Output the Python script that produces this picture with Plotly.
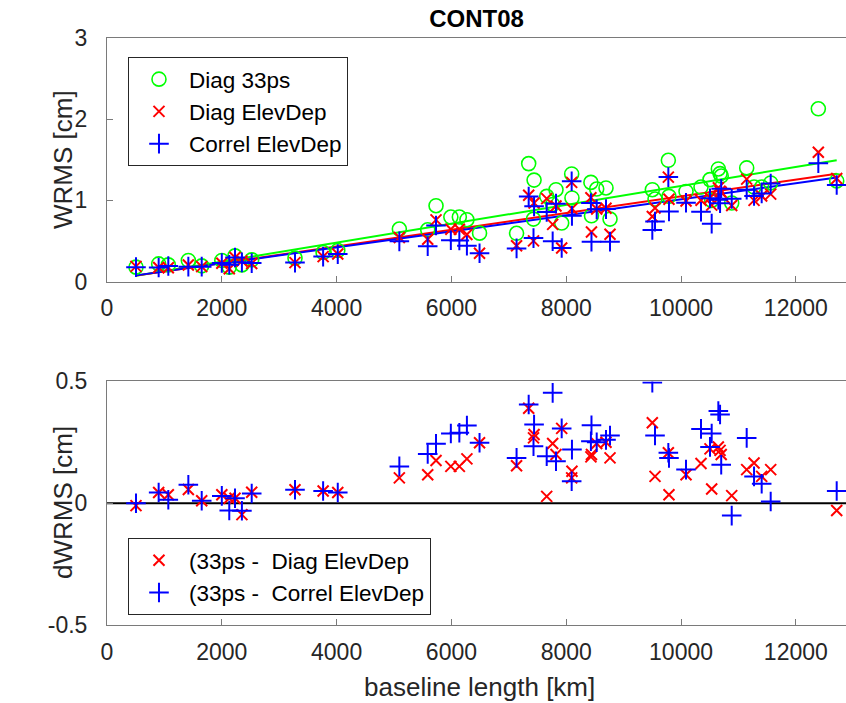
import numpy as np
import plotly.graph_objects as go

baseline_km = [505, 900, 1068, 1417, 1650, 2000, 2130, 2230, 2350, 2521, 3275, 3765, 4020,
               5093, 5587, 5732, 5990, 6138, 6270, 6490, 7135, 7346, 7440, 7430, 7660, 7764,
               7822, 7921, 8095, 8100, 8430, 8440, 8531, 8693, 8763, 9500, 9547, 9779, 9790,
               10087, 10348, 10505, 10534, 10650, 10680, 10700, 10883, 11144, 11272, 11405,
               11562, 12392, 12712]
wrms_diag_33ps = [0.178, 0.218, 0.206, 0.26, 0.194, 0.26, 0.178, 0.317, 0.206, 0.268, 0.289, 0.358,
                  0.383, 0.647, 0.638, 0.935, 0.795, 0.795, 0.762, 0.597, 0.595, 1.453, 1.25, 0.77,
                  1.05, 0.95, 1.132, 0.721, 1.326, 1.03, 1.222, 0.811, 1.14, 1.153, 0.77, 1.132,
                  1.017, 1.494, 1.05, 1.11, 1.165, 1.256, 1.0, 1.387, 1.33, 1.3, 0.968, 1.4, 1.165,
                  1.165, 1.215, 2.128, 1.24]
dwrms_diag_elev = [-0.01, 0.044, 0.035, 0.056, 0.01, 0.035, 0.02, 0.02, -0.047, 0.045, 0.055, 0.05,
                   0.044, 0.104, 0.117, 0.175, 0.151, 0.151, 0.182, 0.248, 0.154, 0.39, 0.282, 0.268,
                   0.028, 0.245, 0.2, 0.307, 0.104, 0.131, 0.19, 0.2, 0.245, 0.25, 0.186, 0.33, 0.11,
                   0.207, 0.035, 0.117, 0.163, 0.223, 0.058, 0.231, 0.217, 0.2, 0.031, 0.138, 0.165,
                   0.11, 0.138, 0.535, -0.03]
dwrms_correl_elev = [0.0, 0.044, 0.014, 0.076, 0.01, 0.03, -0.03, 0.02, -0.031, 0.04, 0.055, 0.05,
                     0.044, 0.151, 0.202, 0.244, 0.286, 0.289, 0.319, 0.248, 0.186, 0.405, 0.323,
                     0.234, 0.193, 0.453, 0.172, 0.307, 0.09, 0.22, 0.254, 0.32, 0.25, 0.26, 0.278,
                     0.495, 0.278, 0.207, 0.186, 0.138, 0.305, 0.231, 0.286, 0.378, 0.364, 0.158,
                     -0.051, 0.268, 0.11, 0.08, 0.007, 0.67, 0.05]

# linear trend lines as drawn in the chart (Diag 33ps, Diag ElevDep, Correl ElevDep)
fit_intercept = [0.0144, 0.0217, 0.027]
fit_slope = [1.164e-4, 1.028e-4, 0.987e-4]

x_ticks = [0, 2000, 4000, 6000, 8000, 10000, 12000]
x_tick_labels = ["0", "2000", "4000", "6000", "8000", "10000", "12000"]
top_y_ticks = [0, 1, 2, 3]
bot_y_ticks = [-0.5, 0, 0.5]
bot_y_tick_labels = ["-0.5", "0", "0.5"]

km = np.array(baseline_km, dtype=float)
g = np.array(wrms_diag_33ps)
r = g - np.array(dwrms_diag_elev)
b = g - np.array(dwrms_correl_elev)

GREEN, RED, BLUE = "#00FF00", "#FF0000", "#0000FF"
FONT = "Liberation Sans, Arial, Helvetica, sans-serif"
TXT = "#262626"
LINE = "#7a7a7a"

fig = go.Figure()
xs = np.array([km.min(), km.max()])
for a0, a1, col in zip(fit_intercept, fit_slope, [GREEN, RED, BLUE]):
    fig.add_trace(go.Scatter(x=xs, y=a0 + a1 * xs, mode="lines",
                             line=dict(color=col, width=2), showlegend=False,
                             xaxis="x", yaxis="y"))

fig.add_trace(go.Scatter(x=km, y=g, mode="markers", name="Diag 33ps",
                         marker=dict(symbol="circle-open", size=14, color=GREEN,
                                     line=dict(width=1.6, color=GREEN)),
                         xaxis="x", yaxis="y", legend="legend"))
fig.add_trace(go.Scatter(x=km, y=r, mode="markers", name="Diag ElevDep",
                         marker=dict(symbol="x-thin-open", size=11, color=RED,
                                     line=dict(width=2, color=RED)),
                         xaxis="x", yaxis="y", legend="legend"))
fig.add_trace(go.Scatter(x=km, y=b, mode="markers", name="Correl ElevDep",
                         marker=dict(symbol="cross-thin-open", size=14, color=BLUE,
                                     line=dict(width=2, color=BLUE)),
                         xaxis="x", yaxis="y", legend="legend"))

fig.add_trace(go.Scatter(x=[0, 13500], y=[0, 0], mode="lines",
                         line=dict(color="black", width=2), showlegend=False,
                         xaxis="x2", yaxis="y2"))
fig.add_trace(go.Scatter(x=km, y=g - r, mode="markers", name="(33ps -  Diag ElevDep",
                         marker=dict(symbol="x-thin-open", size=11, color=RED,
                                     line=dict(width=2, color=RED)),
                         xaxis="x2", yaxis="y2", legend="legend2"))
fig.add_trace(go.Scatter(x=km, y=g - b, mode="markers", name="(33ps -  Correl ElevDep",
                         marker=dict(symbol="cross-thin-open", size=14, color=BLUE,
                                     line=dict(width=2, color=BLUE)),
                         xaxis="x2", yaxis="y2", legend="legend2"))

xr = [0, 12874]
TICKFONT = dict(family=FONT, size=23, color=TXT)
axis_common = dict(showline=True, linecolor=LINE, linewidth=1, ticks="inside", ticklen=6,
                   tickcolor=LINE, showgrid=False, zeroline=False, automargin=False,
                   tickfont=TICKFONT)
LABELFONT = dict(family=FONT, size=26, color=TXT)

fig.update_layout(
    width=846, height=703,
    margin=dict(l=107, r=0, t=38, b=78),
    plot_bgcolor="white", paper_bgcolor="white",
    font=dict(family=FONT, color=TXT),
    title=dict(text="<b>CONT08</b>", x=(107 + 846) / 2 / 846, xanchor="center",
               y=1 - 19 / 703, yanchor="middle", font=dict(size=24, color="black", family=FONT)),
    xaxis=dict(domain=[0, 1], range=xr, tickvals=x_ticks, ticktext=x_tick_labels, anchor="y",
               mirror=True, ticklabelstandoff=6, **axis_common),
    yaxis=dict(domain=[0.585, 1], range=[0, 3], tickvals=top_y_ticks, anchor="x",
               ticklabelstandoff=14, **axis_common),
    xaxis2=dict(domain=[0, 1], range=xr, tickvals=x_ticks, ticktext=x_tick_labels, anchor="y2",
                mirror=True, ticklabelstandoff=6, **axis_common),
    yaxis2=dict(domain=[0, 0.415], range=[-0.5, 0.5], tickvals=bot_y_ticks,
                ticktext=bot_y_tick_labels, anchor="x2", ticklabelstandoff=14, **axis_common),
    legend=dict(x=0.0284, y=0.9676, xanchor="left", yanchor="top", bgcolor="white",
                bordercolor=TXT, borderwidth=1, itemwidth=50,
                font=dict(family=FONT, size=22.5, color="black")),
    legend2=dict(x=0.0284, y=0.148, xanchor="left", yanchor="top", bgcolor="white",
                 bordercolor=TXT, borderwidth=1, itemwidth=50,
                 font=dict(family=FONT, size=22.5, color="black")),
    annotations=[
        dict(text="WRMS [cm]", x=63, xref="paper", y=160, yref="paper", showarrow=False,
             textangle=-90, font=LABELFONT),
        dict(text="dWRMS [cm]", x=63, xref="paper", y=503, yref="paper", showarrow=False,
             textangle=-90, font=LABELFONT),
        dict(text="baseline length [km]", x=479, xref="paper", y=687, yref="paper",
             showarrow=False, font=LABELFONT),
    ],
)

# convert annotation pixel positions into paper coordinates
plot_w, plot_h = 846 - 107, 703 - 38 - 78
for ann in fig.layout.annotations:
    px, py = ann.x, ann.y
    ann.x = (px - 107) / plot_w
    ann.y = 1 - (py - 38) / plot_h
    ann.xanchor = "center"
    ann.yanchor = "middle"

fig.write_html(
    "out.html",
    config={"displayModeBar": False},
    post_script="document.body.style.margin='0';document.body.style.padding='0';"
                "document.body.style.overflow='hidden';",
)
